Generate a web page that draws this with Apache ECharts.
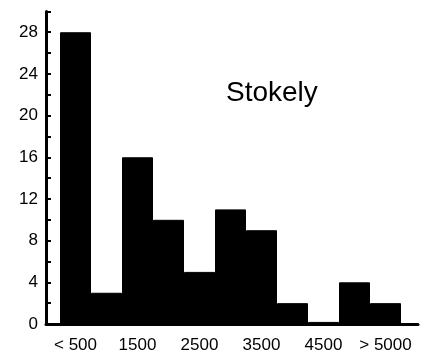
<!DOCTYPE html>
<html><head><meta charset="utf-8">
<script src="https://cdn.jsdelivr.net/npm/echarts@6/dist/echarts.min.js"></script>
<style>html,body{margin:0;padding:0;background:#fff}#c{width:427px;height:360px}</style>
</head><body><div id="c"></div>
<script>
const categories = ['< 500','1000','1500','2000','2500','3000','3500','4000','4500','5000','> 5000'];
const counts = [28, 3, 16, 10, 5, 11, 9, 2, 0.2, 4, 2];
const yTickLabels = [0, 4, 8, 12, 16, 20, 24, 28];
const titleText = 'Stokely';

const chart = echarts.init(document.getElementById('c'), null, {renderer:'canvas'});
const font = 'Liberation Sans, Arial, sans-serif';
const TOP = 11.4, BOTTOM = 36;
chart.setOption({
  animation:false,
  backgroundColor:'#fff',
  title:{text:titleText, left:221, top:74, textStyle:{fontFamily:font, fontSize:28, fontWeight:'normal', color:'#000'}},
  grid:[
    {left:60, right:26, top:TOP, bottom:BOTTOM},
    {left:46, right:9, top:TOP, bottom:BOTTOM}
  ],
  xAxis:[
    {type:'category', gridIndex:0, data:categories, boundaryGap:true,
     axisLine:{show:false}, axisTick:{show:false},
     axisLabel:{interval:1, color:'#000', fontFamily:font, fontSize:17, margin:13}},
    {type:'value', gridIndex:1, min:0, max:1,
     axisLine:{show:true, lineStyle:{color:'#000', width:3, cap:'round'}},
     axisTick:{show:false}, axisLabel:{show:false}, splitLine:{show:false}}
  ],
  yAxis:[
    {type:'value', gridIndex:0, min:0, max:30, show:false, splitLine:{show:false}},
    {type:'value', gridIndex:1, min:0, max:30, interval:2,
     axisLine:{show:true, lineStyle:{color:'#000', width:3}},
     axisTick:{show:true, inside:true, length:5, lineStyle:{color:'#000', width:2}},
     axisLabel:{color:'#000', fontFamily:font, fontSize:17, margin:8,
       formatter:v => yTickLabels.indexOf(v) >= 0 ? String(v) : ''},
     splitLine:{show:false}}
  ],
  series:[{
    type:'bar', xAxisIndex:0, yAxisIndex:0, data:counts,
    barWidth:'100%', barCategoryGap:'0%',
    itemStyle:{color:'#000', borderColor:'#000', borderWidth:1}
  }]
});
</script></body></html>
